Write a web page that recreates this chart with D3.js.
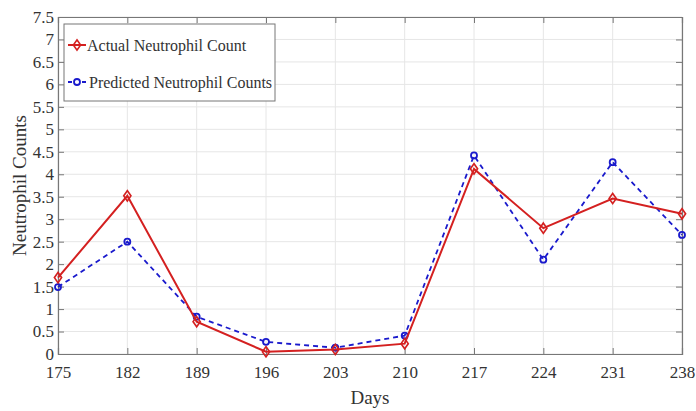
<!DOCTYPE html>
<html>
<head>
<meta charset="UTF-8">
<script src="https://cdn.jsdelivr.net/npm/d3@7"></script>
<style>
  body { margin: 0; background: #fff; }
  text { font-family: "Liberation Serif", "Times New Roman", serif; fill: #333; }
</style>
</head>
<body>
<script>
// data
var days = [175, 182, 189, 196, 203, 210, 217, 224, 231, 238];
var actual = [1.7, 3.52, 0.72, 0.05, 0.1, 0.23, 4.12, 2.8, 3.46, 3.12];
var predicted = [1.49, 2.5, 0.83, 0.27, 0.14, 0.41, 4.42, 2.1, 4.27, 2.65];
var yTicks = d3.range(0, 7.51, 0.5);

var W = 696, H = 411;
var m = {left: 58, right: 14, top: 17, bottom: 57};

var svg = d3.select("body").append("svg")
    .attr("width", W).attr("height", H);

var x = d3.scaleLinear().domain([175, 238]).range([m.left, W - m.right]);
var y = d3.scaleLinear().domain([0, 7.5]).range([H - m.bottom, m.top]);

// grid
svg.append("g").selectAll("line").data(days).enter().append("line")
    .attr("x1", d => x(d)).attr("x2", d => x(d))
    .attr("y1", y(0)).attr("y2", y(7.5))
    .attr("stroke", "#e6e6e6").attr("stroke-width", 1);
svg.append("g").selectAll("line").data(yTicks).enter().append("line")
    .attr("x1", x(175)).attr("x2", x(238))
    .attr("y1", d => y(d)).attr("y2", d => y(d))
    .attr("stroke", "#e6e6e6").attr("stroke-width", 1);

// axes (box, ticks inside)
var fmt = d => String(d);
svg.append("g").attr("transform", "translate(0," + y(0) + ")")
    .call(d3.axisBottom(x).tickValues(days).tickSize(-6).tickPadding(12).tickFormat(fmt));
svg.append("g").attr("transform", "translate(" + x(175) + ",0)")
    .call(d3.axisLeft(y).tickValues(yTicks).tickSize(-6).tickPadding(4).tickFormat(fmt));
svg.append("g").attr("transform", "translate(0," + y(7.5) + ")")
    .call(d3.axisTop(x).tickValues(days).tickSize(-6).tickFormat(""));
svg.append("g").attr("transform", "translate(" + x(238) + ",0)")
    .call(d3.axisRight(y).tickValues(yTicks).tickSize(-6).tickFormat(""));
svg.selectAll(".domain").attr("stroke", "#777").attr("stroke-width", 1.2);
svg.selectAll(".tick line").attr("stroke", "#777");
svg.selectAll(".tick text").attr("fill", "#3a3a3a").style("font-size", "17px")
    .style("font-family", "Liberation Serif, serif");

// labels
svg.append("text").attr("x", x(206.5)).attr("y", 404)
    .attr("text-anchor", "middle").style("font-size", "19px").text("Days");
svg.append("text").attr("transform", "translate(26," + y(3.75) + ") rotate(-90)")
    .attr("text-anchor", "middle").style("font-size", "19px").text("Neutrophil Counts");

var line = d3.line().x((d, i) => x(days[i])).y(d => y(d));

// predicted
svg.append("path").datum(predicted).attr("d", line)
    .attr("fill", "none").attr("stroke", "#1a1acc").attr("stroke-width", 1.8)
    .attr("stroke-dasharray", "5,4");
svg.append("g").selectAll("circle").data(predicted).enter().append("circle")
    .attr("cx", (d, i) => x(days[i])).attr("cy", d => y(d)).attr("r", 3)
    .attr("fill", "none").attr("stroke", "#1a1acc").attr("stroke-width", 1.8);

// actual
svg.append("path").datum(actual).attr("d", line)
    .attr("fill", "none").attr("stroke", "#d42020").attr("stroke-width", 2);
var diamond = d3.symbol().type(d3.symbolDiamond).size(34);
svg.append("g").selectAll("path").data(actual).enter().append("path")
    .attr("d", diamond)
    .attr("transform", (d, i) => "translate(" + x(days[i]) + "," + y(d) + ") scale(1.15,0.95)")
    .attr("fill", "none").attr("stroke", "#d42020").attr("stroke-width", 1.5);

// legend
var lg = svg.append("g").attr("transform", "translate(64,24)");
lg.append("rect").attr("width", 211).attr("height", 77)
    .attr("fill", "#fff").attr("stroke", "#777").attr("stroke-width", 1);
lg.append("line").attr("x1", 4).attr("x2", 22).attr("y1", 21).attr("y2", 21)
    .attr("stroke", "#d42020").attr("stroke-width", 2);
lg.append("path").attr("d", diamond).attr("transform", "translate(13,21) scale(1.15,0.95)")
    .attr("fill", "none").attr("stroke", "#d42020").attr("stroke-width", 1.5);
lg.append("text").attr("x", 23).attr("y", 27).style("font-size", "16px")
    .attr("fill", "#222").text("Actual Neutrophil Count");
lg.append("line").attr("x1", 4).attr("x2", 22).attr("y1", 58).attr("y2", 58)
    .attr("stroke", "#1a1acc").attr("stroke-width", 1.8).attr("stroke-dasharray", "4,3");
lg.append("circle").attr("cx", 13).attr("cy", 58).attr("r", 3)
    .attr("fill", "#fff").attr("stroke", "#1a1acc").attr("stroke-width", 1.8);
lg.append("text").attr("x", 25).attr("y", 64).style("font-size", "16px")
    .attr("fill", "#222").text("Predicted Neutrophil Counts");
</script>
</body>
</html>
